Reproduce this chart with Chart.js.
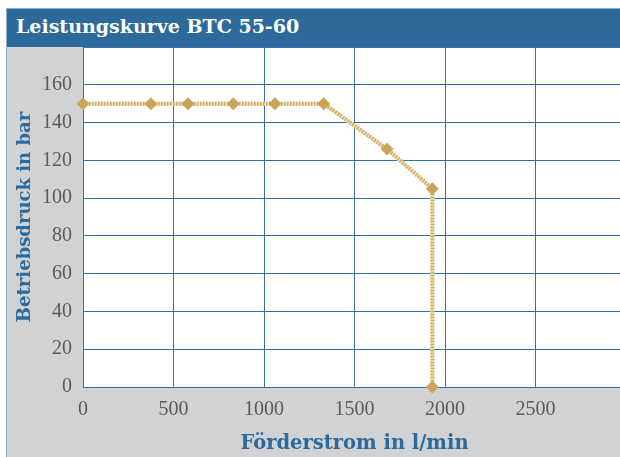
<!DOCTYPE html>
<html>
<head>
<meta charset="utf-8">
<script src="https://cdn.jsdelivr.net/npm/chart.js@4.4.1/dist/chart.umd.min.js"></script>
<style>
  html, body { margin: 0; padding: 0; background: #ffffff; width: 620px; height: 457px; overflow: hidden; }
  #frame { position: absolute; left: 6px; top: 8px; width: 640px; height: 460px; background: #d1d2d4;
           border-left: 1.5px solid #8fb0cc; border-top: 1.5px solid #8fb0cc; }
  #titlebar { position: absolute; left: 7px; top: 9px; width: 640px; height: 38px; background: #2c6a9c; z-index: 2; }
  #titlebar span { position: absolute; left: 9px; top: 6px; color: #ffffff; font-family: "DejaVu Serif", serif;
           font-weight: bold; font-size: 19px; white-space: nowrap; }
  #wrap { position: absolute; left: 7px; top: 9px; width: 630px; height: 448px; z-index: 1; }
</style>
</head>
<body>
<div id="frame"></div>
<div id="wrap"><canvas id="c" width="630" height="448"></canvas></div>
<div id="titlebar"><span id="ttl"></span></div>
<script>
const chartTitle = "Leistungskurve BTC 55-60";
const xAxisTitle = "Förderstrom in l/min";
const yAxisTitle = "Betriebsdruck in bar";
const flowValues = [0, 375, 580, 830, 1060, 1330, 1680, 1930, 1930];
const pressureValues = [150, 150, 150, 150, 150, 150, 126, 105, 0];
const xTicks = [0, 500, 1000, 1500, 2000, 2500];
const yTicks = [0, 20, 40, 60, 80, 100, 120, 140, 160];

document.getElementById('ttl').textContent = chartTitle;

const plotBg = {
  id: 'plotBg',
  beforeDraw(chart) {
    const {ctx, chartArea: a} = chart;
    ctx.save();
    ctx.fillStyle = '#ffffff';
    ctx.fillRect(a.left, a.top, a.right - a.left, a.bottom - a.top);
    ctx.restore();
  }
};

const gridColor = '#3470a6';
const tickFont = { family: '"Liberation Serif", serif', size: 20 };
const points = flowValues.map((x, i) => ({ x: x, y: pressureValues[i] }));

new Chart(document.getElementById('c'), {
  type: 'line',
  data: {
    datasets: [{
      data: points,
      borderColor: '#cfac62',
      borderWidth: 4,
      borderDash: [1.5, 1.5],
      pointStyle: 'rectRot',
      pointRadius: 6.5,
      pointHoverRadius: 6.5,
      pointBackgroundColor: '#c9a55b',
      pointBorderColor: '#c9a55b',
      pointBorderWidth: 0,
      tension: 0,
      clip: false,
      order: 0
    }, {
      data: points,
      borderColor: '#efe1c0',
      borderWidth: 4,
      pointRadius: 0,
      tension: 0,
      clip: false,
      order: 1
    }]
  },
  options: {
    responsive: false,
    devicePixelRatio: 1,
    animation: false,
    events: [],
    layout: { padding: { top: 38, right: 0, left: 0, bottom: 0 } },
    plugins: { legend: { display: false }, tooltip: { enabled: false }, title: { display: false } },
    scales: {
      x: {
        type: 'linear',
        min: 0, max: 3000,
        afterFit(s) { s.height = 70; },
        afterBuildTicks(s) { s.ticks = xTicks.concat([3000]).map(v => ({ value: v })); },
        ticks: {
          callback: v => (xTicks.includes(v) ? String(v) : ''),
          font: tickFont, color: '#5a5a5a', padding: 11, maxRotation: 0, autoSkip: false
        },
        grid: { color: gridColor, lineWidth: 1, drawTicks: false },
        border: { display: true, color: gridColor, width: 1 },
        title: { display: true, text: xAxisTitle, font: { family: '"DejaVu Serif", serif', size: 19.5, weight: 'bold' },
                 color: '#2c6a9c', padding: { top: 0, bottom: 1 } }
      },
      y: {
        type: 'linear',
        min: 0, max: 180,
        afterFit(s) { s.width = 76; },
        afterBuildTicks(s) { s.ticks = yTicks.concat([180]).map(v => ({ value: v })); },
        ticks: {
          callback: v => (yTicks.includes(v) ? String(v) : ''),
          font: tickFont, color: '#5a5a5a', padding: 11, autoSkip: false
        },
        grid: { color: gridColor, lineWidth: 1, drawTicks: false },
        border: { display: true, color: gridColor, width: 1 },
        title: { display: true, text: yAxisTitle, font: { family: '"DejaVu Serif", serif', size: 18, weight: 'bold' },
                 color: '#2c6a9c', padding: { top: 8, bottom: 0 } }
      }
    }
  },
  plugins: [plotBg]
});
</script>
</body>
</html>
